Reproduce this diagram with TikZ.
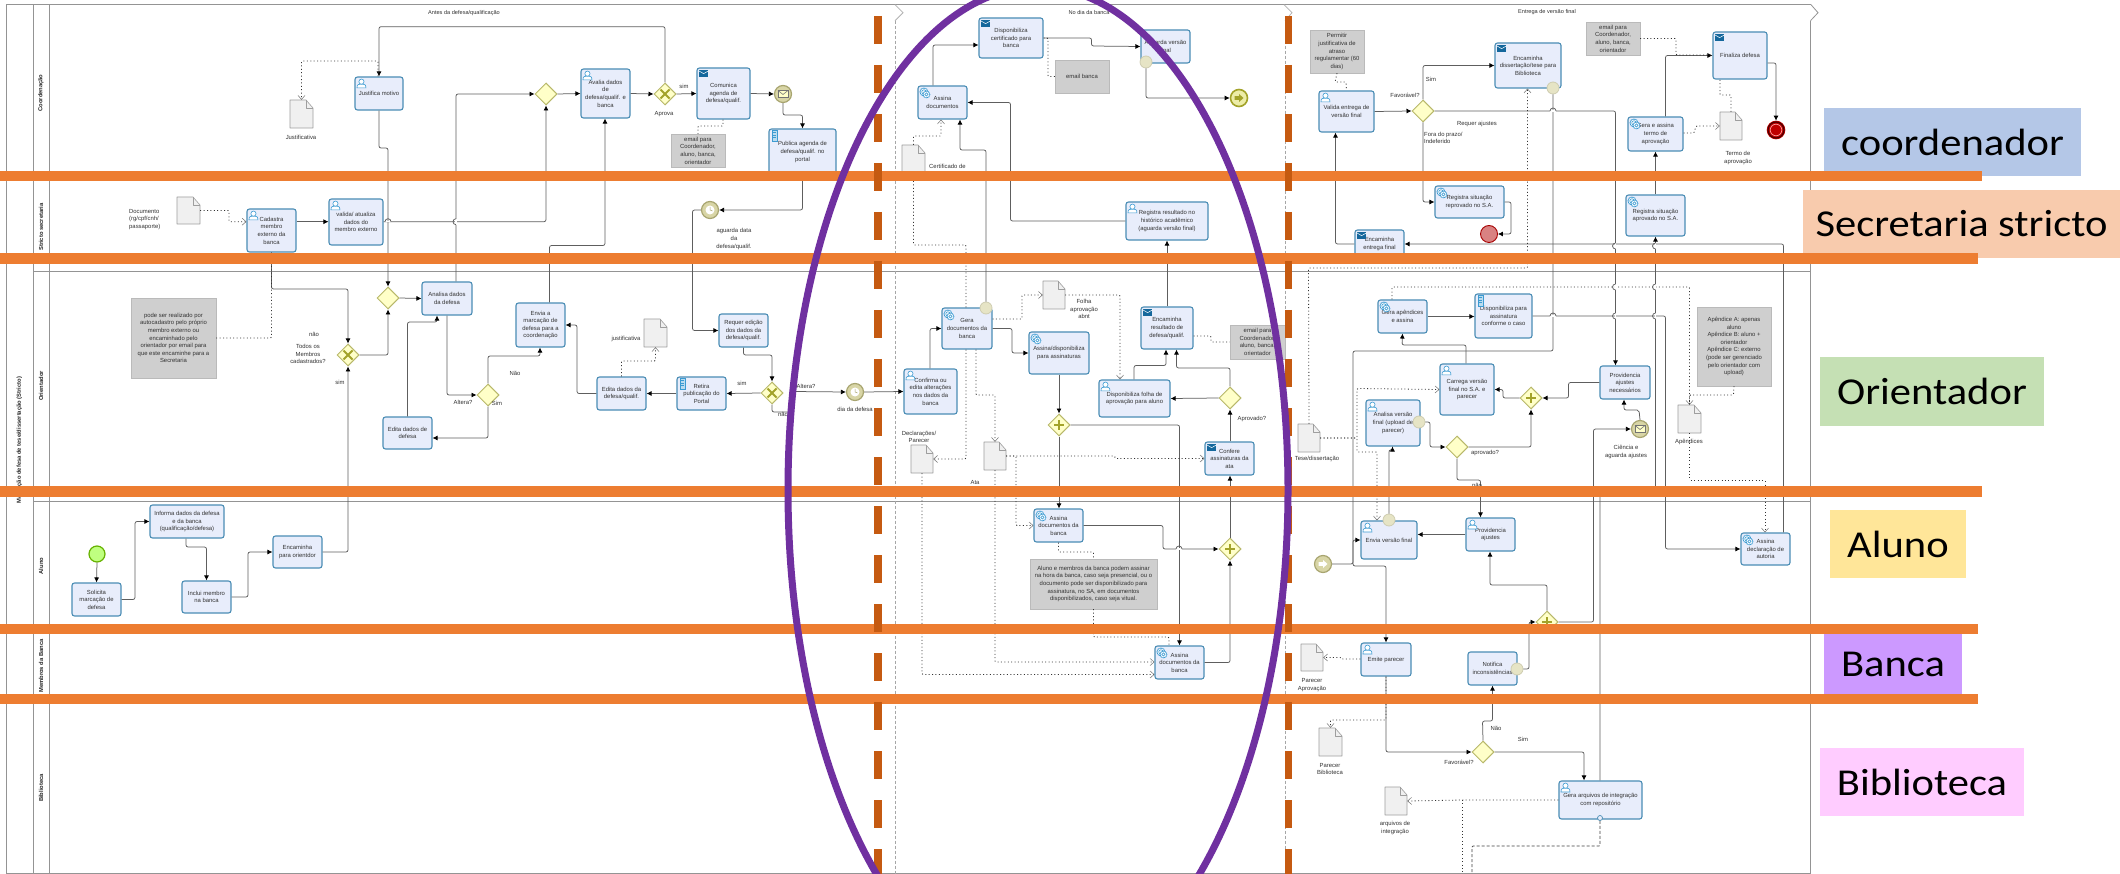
\documentclass[tikz,border=0pt]{standalone}
\usepackage{fontspec}
\setmainfont{Liberation Sans}
\newfontfamily\lblfont[FakeStretch=1.12]{Carlito}
\usetikzlibrary{arrows.meta,shapes.geometric}
\definecolor{taskfill}{HTML}{E8EDFB}
\definecolor{taskline}{HTML}{4A8DB5}
\definecolor{flowgrey}{HTML}{5E5E5E}
\definecolor{lanegrey}{HTML}{949494}
\definecolor{iconblue}{HTML}{3C9BD2}
\definecolor{maildark}{HTML}{14679C}
\definecolor{gatefill}{HTML}{FFFFC8}
\definecolor{gateline}{HTML}{B8B86A}
\definecolor{gatemark}{HTML}{A3A32A}
\definecolor{evfill}{HTML}{D8D5A6}
\definecolor{evline}{HTML}{A8A570}
\definecolor{notegrey}{HTML}{CFCFCF}
\definecolor{textgrey}{HTML}{333333}
\definecolor{orangebar}{HTML}{ED7D31}
\definecolor{orangedash}{HTML}{C55A11}
\definecolor{purplering}{HTML}{7030A0}
\tikzset{
  txt/.style={font=\fontsize{5.9}{7.6}\selectfont,text=textgrey,align=center,inner sep=0pt},
  taskbox/.style={txt,draw=taskline,fill=taskfill,line width=1.1pt,rounded corners=2.5pt},
  notebox/.style={txt,fill=notegrey,draw=notegrey!90!black,line width=0.4pt},
  docbody/.style={inner sep=0pt},
  docline/.style={draw=black!38,fill=black!6,line width=0.6pt,line join=round},
  lbltext/.style={txt},
  lanelabel/.style={font=\bfseries\fontsize{5.8}{6}\selectfont,rotate=90,text=black!85,inner sep=0pt},
  gatebase/.style={diamond,aspect=1,draw=gateline,fill=gatefill,line width=1pt,minimum width=22pt,minimum height=22pt,inner sep=0pt},
  evbase/.style={circle,draw=evline,fill=evfill,line width=1.2pt,minimum size=17pt,inner sep=0pt},
  boundev/.style={circle,draw=evline!55,fill=evfill!65,line width=0.8pt,minimum size=12pt,inner sep=0pt},
  flow/.style={draw=flowgrey,line width=0.75pt,rounded corners=2pt,-{Latex[length=5pt,width=5pt,black]}},
  assoc/.style={draw=black!80,line width=0.8pt,dash pattern=on 1pt off 2.4pt,rounded corners=1pt},
  assocarrow/.style={assoc,-{Straight Barb[length=4pt,width=7pt,black!55,line width=0.5pt]}},
  dashflow/.style={draw=black!75,line width=0.7pt,dash pattern=on 3pt off 2pt,rounded corners=1pt},
  lane/.style={draw=lanegrey,line width=0.8pt},
  phaseline/.style={draw=black!35,line width=0.9pt,dash pattern=on 3pt off 2pt},
  phasetip/.style={draw=black!30,line width=0.8pt},
  phasetext/.style={txt,font=\fontsize{5.6}{7}\selectfont},
  hopline/.style={draw=flowgrey,line width=0.75pt},
  orangeline/.style={draw=orangebar,line width=10.5pt},
  dashbar/.style={draw=orangedash,line width=7.5pt,dash pattern=on 28pt off 21pt},
  ring/.style={draw=purplering,line width=7pt},
  rolebox/.style={font=\lblfont\fontsize{38}{40}\selectfont,text=black,inner sep=0pt},
  iconline/.style={draw=iconblue,line width=0.6pt,fill=white},
  markstroke/.style={draw=gatemark,line width=2.1pt},
}
\newcounter{labn}
\newcommand\lbl[3]{\stepcounter{labn}\node[lbltext] (lbl\arabic{labn}) at (#1,#2) {#3};}
\newcommand\mytask[6]{\node[taskbox,minimum width={(#4-#2)*1pt},minimum height={(#5-#3)*1pt}] (#1) at ({(#2+#4)/2},{(#3+#5)/2}) {#6};}
\newcommand\mynote[6]{\node[notebox,minimum width={(#4-#2)*1pt},minimum height={(#5-#3)*1pt}] (#1) at ({(#2+#4)/2},{(#3+#5)/2}) {#6};}
\newcommand\myfile[5]{\node[docbody,minimum width={(#4-#2)*1pt},minimum height={(#5-#3)*1pt}] (#1) at ({(#2+#4)/2},{(#3+#5)/2}) {};
  \draw[docline] (#2,#3) -- ({#4-7},#3) -- (#4,{#3+8}) -- (#4,#5) -- (#2,#5) -- cycle;
  \draw[docline,fill=none] ({#4-7},#3) -- ({#4-7},{#3+8}) -- (#4,{#3+8});}
\newcommand\gateplain[3]{\node[gatebase] (#1) at (#2,#3) {};}
\newcommand\gatecross[3]{\gateplain{#1}{#2}{#3}\draw[markstroke] ({#2-4.5},{#3-4.5}) -- ({#2+4.5},{#3+4.5}) ({#2-4.5},{#3+4.5}) -- ({#2+4.5},{#3-4.5});}
\newcommand\gateplus[3]{\gateplain{#1}{#2}{#3}\draw[markstroke] ({#2-5},#3) -- ({#2+5},#3) (#2,{#3-5}) -- (#2,{#3+5});}
\newcommand\iconuser[1]{\begin{scope}[shift={(#1.north west)}]
  \draw[iconline] (2.5,11.5) .. controls (2.5,8) and (4,7.5) .. (7,7.5) .. controls (10,7.5) and (11.5,8) .. (11.5,11.5) -- cycle;
  \draw[iconline] (7,5.2) circle[radius=2.6];\end{scope}}
\newcommand\iconmail[1]{\begin{scope}[shift={(#1.north west)}]
  \fill[maildark] (2.5,2.5) rectangle (12,9.5);
  \draw[white,line width=0.5pt] (2.5,3.5) -- (7.2,6.2) -- (12,3.5);\end{scope}}
\newcommand\icongear[1]{\begin{scope}[shift={(#1.north west)}]
  \draw[iconline,dash pattern=on 1.2pt off 0.5pt,line width=0.9pt] (6.5,6.5) circle[radius=4];
  \draw[iconline] (6.5,6.5) circle[radius=2.2];
  \draw[iconline,dash pattern=on 1.2pt off 0.5pt,line width=0.9pt] (9,9) circle[radius=3.4];
  \draw[iconline] (9,9) circle[radius=1.6];\end{scope}}
\newcommand\iconscript[1]{\begin{scope}[shift={(#1.north west)}]
  \draw[iconline,fill=iconblue!35] (4,1.5) rectangle (9,12.5);
  \draw[iconblue,line width=0.4pt] (5,4) -- (8,4) (5,6.5) -- (8,6.5) (5,9) -- (8,9);\end{scope}}
\newcommand\evenvelope[1]{\begin{scope}[shift={(#1.center)}]
  \draw[draw=black!55,fill=gatefill,line width=0.6pt] (-5,-3.5) rectangle (5,3.5);
  \draw[draw=black!55,line width=0.6pt] (-5,-3.5) -- (0,0.5) -- (5,-3.5);\end{scope}}
\newcommand\evarrow[1]{\begin{scope}[shift={(#1.center)}]
  \fill[white] (-4.5,-1.8) -- (0,-1.8) -- (0,-4) -- (4.5,0) -- (0,4) -- (0,1.8) -- (-4.5,1.8) -- cycle;\end{scope}}
\newcommand\evclock[1]{\begin{scope}[shift={(#1.center)}]
  \fill[white] (0,0) circle[radius=4.5];
  \draw[evline,line width=0.5pt] (0,-3) -- (0,0) -- (2.5,1);\end{scope}}
\newcommand\hoph[2]{\fill[white] ({#1-3},{#2-0.8}) rectangle ({#1+3},{#2+0.8});
  \draw[hopline] ({#1-3},#2) arc[start angle=180,end angle=360,radius=3];}
\newcommand\hopv[2]{\fill[white] ({#1-0.8},{#2-3}) rectangle ({#1+0.8},{#2+3});
  \draw[hopline] (#1,{#2-3}) arc[start angle=270,end angle=90,radius=3];}
\begin{document}
\begin{tikzpicture}[x=1pt,y=-1pt]
\useasboundingbox (0,0) rectangle (2120,874);
\fill[white] (0,0) rectangle (2120,874);
% ---------- pool and lanes
\draw[lane,line width=1pt] (1811,4.7) -- (6.5,4.7) -- (6.5,874);
\draw[lane] (33.5,4.7) -- (33.5,874) (49.5,4.7) -- (49.5,874);
\draw[lane] (33.5,178) -- (1810,178) (33.5,271.3) -- (1810,271.3) (33.5,501) -- (1810,501) (33.5,632) -- (1810,632) (33.5,702) -- (1810,702) (6.5,873.5) -- (1810,873.5);
\draw[lane] (1810.5,20.7) -- (1810.5,874);
\draw[phaseline] (895,20.7) -- (895,874) (1285,20.7) -- (1285,874);
\draw[phasetip] (895,4.7) -- (903,12.7) -- (895,20.7) (1284,4.7) -- (1292,12.7) -- (1285,20.7);
\draw[lane] (1811,4.7) -- (1818,12.7) -- (1810.5,20.7);
\node[phasetext] (ph1) at (464,12.7) {Antes da defesa/qualificação};
\node[phasetext] (ph2) at (1089,12.7) {No dia da banca};
\node[phasetext] (ph3) at (1547,12) {Entrega de versão final};
\node[lanelabel] (l0) at (19.3,440) {Marcação defesa de tese/dissertação (Stricto)};
\node[lanelabel] (l1) at (41,93) {Coordenação};
\node[lanelabel] (l2) at (41,227) {Stricto secretaria};
\node[lanelabel] (l3) at (41,386) {Orientador};
\node[lanelabel] (l4) at (41,566) {Aluno};
\node[lanelabel] (l5) at (41,666) {Membros da Banca};
\node[lanelabel] (l6) at (41,788) {Biblioteca};
% ---------- tasks: phase 1
\mytask{jus}{355}{77}{403}{110}{Justifica motivo}\iconuser{jus}
\mytask{cad}{247}{209}{296}{252}{Cadastra\\membro\\externo da\\banca}\iconuser{cad}
\mytask{val}{329}{199}{383}{245}{valida/ atualiza\\dados do\\membro externo}\iconuser{val}
\mytask{ana}{422}{282}{472}{315}{Analisa dados\\da defesa}
\mytask{edd}{383}{417}{432}{449}{Edita dados de\\defesa}
\mytask{inf}{150}{505}{224}{538}{Informa dados da defesa\\e da banca\\(qualificação/defesa)}
\mytask{sol}{72}{583}{121}{616}{Solicita\\marcação de\\defesa}
\mytask{inc}{182}{581}{231}{613}{Inclui membro\\na banca}
\mytask{enc}{273}{536}{322}{568}{Encaminha\\para orientdor}
\mytask{ava}{581}{69}{630}{118}{Avalia dados\\de\\defesa/qualif. e\\banca}\iconuser{ava}
\mytask{com}{697}{68}{750}{119}{Comunica\\agenda de\\defesa/qualif.}\iconmail{com}
\mytask{pub}{769}{129}{836}{175}{Publica agenda de\\defesa/qualif. no\\portal}\iconscript{pub}
\mytask{env}{516}{303}{565}{347}{Envia a\\marcação de\\defesa para  a\\coordenação}
\mytask{req}{719}{314}{768}{347}{Requer edição\\dos dados da\\defesa/qualif.}
\mytask{edq}{597}{377}{646}{410}{Edita  dados da\\defesa/qualif.}
\mytask{ret}{677}{377}{726}{410}{Retira\\publicação do\\Portal}\iconscript{ret}
% ---------- tasks: phase 2
\mytask{cnf}{904}{369}{957}{414}{Confirma ou\\edita alterações\\nos dados da\\banca}\iconuser{cnf}
\mytask{gera}{942}{308}{992}{349}{Gera\\documentos da\\banca}\icongear{gera}
\mytask{asd}{1029}{332}{1089}{374}{Assina/disponibiliza\\para assinaturas}\icongear{asd}
\mytask{dfo}{1099}{380}{1170}{417}{Disponibiliza folha de\\aprovação para aluno}\iconuser{dfo}
\mytask{enr}{1141}{307}{1193}{349}{Encaminha\\resultado de\\defesa/qualif.}\iconmail{enr}
\mytask{cfa}{1205}{442}{1254}{475}{Confere\\assinaturas da\\ata}\iconmail{cfa}
\mytask{asb}{1034}{509}{1083}{542}{Assina\\documentos da\\banca}\icongear{asb}
\mytask{asm}{1155}{646}{1204}{679}{Assina\\documentos da\\banca}\icongear{asm}
\mytask{cer}{979}{18}{1043}{58}{Disponibiliza\\certificado para\\banca}\iconmail{cer}
\mytask{agu}{1141}{30}{1190}{63}{Aguarda versão\\final}
\mytask{ast}{918}{86}{967}{119}{Assina\\documentos}\icongear{ast}
\mytask{reg}{1126}{202}{1208}{240}{Registra resultado no\\histórico acadêmico\\(aguarda versão final)}\iconuser{reg}
% ---------- tasks: phase 3
\mytask{vld}{1319}{91}{1374}{132}{Valida entrega de\\versão final}\iconuser{vld}
\mytask{end}{1495}{43}{1561}{88}{Encaminha\\dissertação/tese para\\Biblioteca}\iconmail{end}
\mytask{rrp}{1435}{186}{1504}{218}{Registra situação\\reprovado no S.A.}\icongear{rrp}
\mytask{eef}{1355}{230}{1404}{258}{Encaminha\\entrega final}\iconmail{eef}
\mytask{rap}{1626}{195}{1685}{236}{Registra situação\\aprovado no S.A.}\icongear{rap}
\mytask{gta}{1628}{117}{1683}{151}{Gera e assina\\termo de\\aprovação}\icongear{gta}
\mytask{fin}{1713}{32}{1767}{79}{Finaliza defesa}\iconmail{fin}
\mytask{gap}{1378}{300}{1427}{333}{Gera apêndices\\e assina}\icongear{gap}
\mytask{dpa}{1475}{294}{1532}{338}{Disponibiliza para\\assinatura\\conforme o caso}\iconscript{dpa}
\mytask{car}{1440}{364}{1494}{415}{Carrega  versão\\final no S.A. e\\parecer}\iconuser{car}
\mytask{anv}{1366}{400}{1420}{446}{Analisa versão\\final (upload de\\parecer)}\iconuser{anv}
\mytask{pan}{1600}{366}{1650}{399}{Providencia\\ajustes\\necessários}
\mytask{evf}{1361}{521}{1417}{559}{Envia versão final}\iconuser{evf}
\mytask{pav}{1466}{518}{1515}{551}{Providencia\\ajustes}\iconuser{pav}
\mytask{adc}{1741}{533}{1790}{565}{Assina\\declaração de\\autoria}\icongear{adc}
\mytask{emi}{1361}{643}{1411}{676}{Emite parecer}\iconuser{emi}
\mytask{ntf}{1468}{652}{1517}{685}{Notifica\\inconsistências}
\mytask{gar}{1559}{781}{1642}{819}{Gera arquivos de integração\\com repositório}\iconuser{gar}
% ---------- notes
\mynote{nt1}{131}{298}{216}{378}{pode ser realizado por\\autocadastro  pelo próprio\\membro externo ou\\encaminhado pelo\\orientador por email para\\que este encaminhe para a\\Secretaria}
\mynote{nt2}{671}{134}{725}{167}{email para\\Coordenador,\\aluno, banca,\\orientador}
\mynote{nt3}{1230}{325}{1285}{359}{email para\\Coordenador,\\aluno, banca,\\orientador}
\mynote{nt4}{1030}{559}{1157}{609}{Aluno e membros da banca podem assinar\\na hora da banca, caso seja presencial, ou o\\documento pode ser disponibilizado para\\assinatura, no SA, em documentos\\disponibilizados, caso seja vitual.}
\mynote{nt5}{1055}{60}{1109}{93}{email banca}
\mynote{nt6}{1310}{30}{1364}{73}{Permitir\\justificativa de\\atraso\\regulamentar (60\\dias)}
\mynote{nt7}{1586}{22}{1640}{55}{email para\\Coordenador,\\aluno, banca,\\orientador}
\mynote{nt8}{1697}{307}{1771}{386}{Apêndice A: apenas\\aluno\\Apêndice B: aluno +\\orientador\\Apêndice C: externo\\(pode ser gerenciado\\pelo orientador com\\upload)}
% ---------- documents
\myfile{dc1}{177}{197}{200}{224}
\myfile{dc2}{290}{100}{313}{128}
\myfile{dc3}{644}{319}{667}{347}
\myfile{dc4}{902}{145}{925}{172}
\myfile{dc5}{1043}{281}{1065}{309}
\myfile{dc6}{911}{445}{933}{473}
\myfile{dc7}{984}{442}{1006}{470}
\myfile{dc8}{1298}{424}{1320}{452}
\myfile{dc9}{1720}{112}{1742}{140}
\myfile{dc10}{1678}{405}{1701}{433}
\myfile{dc11}{1301}{644}{1323}{671}
\myfile{dc12}{1319}{728}{1342}{756}
\myfile{dc13}{1385}{787}{1407}{815}
% ---------- gateways
\gateplain{gw1}{388}{298}
\gatecross{gx1}{348}{355}
\gateplain{gw2}{546}{94}
\gatecross{gx2}{665}{94}
\gateplain{gw3}{488}{395}
\gatecross{gx3}{772}{393}
\gateplus{gp1}{1059}{425}
\gateplus{gp2}{1230}{549}
\gateplain{gwa}{1230}{398}
\gateplain{gfv}{1423}{111}
\gateplus{gpc}{1531}{398}
\gateplain{gap2}{1457}{447}
\gateplus{gpd}{1547}{622}
\gateplain{gfb}{1483}{752}
% ---------- events
\node[evbase,draw=black!50!green!60!yellow,fill=green!50!yellow!50,minimum size=16pt] (start) at (97,554) {};
\node[evbase] (ev1) at (783,94) {}; \evenvelope{ev1}
\node[evbase] (tim1) at (710,210) {}; \evclock{tim1}
\node[evbase] (tim2) at (855,392) {}; \evclock{tim2}
\node[evbase,draw=gatemark,fill=gatefill!80!gatemark,line width=1.6pt] (lnk) at (1239,98) {};
\fill[gatemark] (1234.5,96.2) -- (1239,96.2) -- (1239,94) -- (1243.5,98) -- (1239,102) -- (1239,99.8) -- (1234.5,99.8) -- cycle;
\node[evbase] (lk2) at (1323,564) {}; \evarrow{lk2}
\node[evbase] (ev2) at (1640,429) {}; \evenvelope{ev2}
\node[evbase,draw=red!65!black,fill=red!40!white!85!black,line width=0.9pt] (ep1) at (1489,234) {};
\node[evbase,draw=red!75!black,fill=red!75!black,line width=1.6pt] (ep2) at (1776,130) {};
\draw[black!70!red,line width=1.2pt] (ep2.center) circle[radius=8];
\draw[white!60!red,line width=0.7pt] (ep2.center) circle[radius=5.8];
\node[boundev] (bg) at (986,308) {};
\node[boundev] (ba) at (1146,62) {};
\node[boundev] (be) at (1553,88) {};
\node[boundev] (bn) at (1419,422) {};
\node[boundev] (bv) at (1389,520) {};
\node[boundev] (bf) at (1517,669) {};
\node[circle,draw=taskline,fill=taskfill,line width=0.7pt,minimum size=5pt,inner sep=0pt] (cmp) at (1600,818) {};
\coordinate (botA) at (1462,874);
\coordinate (botB) at (1472,874);
% ---------- flows: phase 1
\draw[flow] (start.south) -- (sol.north);
\draw[flow] (sol.east) -| (135,521.5) -- (inf.west);
\draw[flow] (186,0 |- inf.south) -- (186,547) -- (206.5,547) -- (inc.north);
\draw[flow] (inc.east) -| (248,552) -- (enc.west);
\draw[flow] (enc.east) -| (gx1.south);
\draw[flow] (gx1.east) -| (gw1.south);
\draw[flow] (jus.south) -- (379,148) -- (388,148) -- (gw1.north);
\draw[flow] (gw1.east) -- (ana.west);
\draw[flow] (0,221.7 -| val.east) -| (gw2.south);
\draw[flow] (456,0 |- ana.north) -- (456,94) -- (gw2.west);
\draw[flow] (gw2.east) -- (ava.west);
\draw[flow] (ava.east) -- (gx2.west);
\draw[flow] (gx2.north) |- (379,26.7) -- (jus.north);
\draw[flow] (gx2.east) -- (com.west);
\draw[flow] (com.east) -- (ev1.west);
\draw[flow] (ev1.south) -- (783,115) -- (802.5,115) -- (pub.north);
\draw[flow] (pub.south) |- (tim1.east);
\draw[flow] (tim1.west) -| (692.5,330.5) -- (req.west);
\draw[flow] (743.5,0 |- req.south) -- (743.5,355) -- (772,355) -- (gx3.north);
\draw[flow] (gx3.west) -- (ret.east);
\draw[flow] (ret.west) -- (edq.east);
\draw[flow] (edq.west) -| (577,325) -- (env.east);
\draw[flow] (447,0 |- ana.south) |- (gw3.west);
\draw[flow] (gw3.north) |- (540,356) -- (540,0 |- env.south);
\draw[flow] (gw3.south) |- (0,438 -| edd.east);
\draw[flow] (edd.north) -- (407.5,322) -- (437,322) -- (437,0 |- ana.south);
\draw[flow] (549.5,0 |- env.north) -- (549.5,245.5) -- (605,245.5) -- (605,0 |- ava.south);
\draw[flow] (cad.south) |- (348,289) -- (gx1.north);
\draw[flow] (0,221.7 -| cad.east) -- (0,221.7 -| val.west);
\draw[assocarrow] (dc1.east) -- (229,210.5) -- (229,221.7) -- (0,221.7 -| cad.west);
\draw[assocarrow] (378,0 |- jus.north) -- (378,61) -- (301.5,61) -- (dc2.north);
\draw[assoc] (nt1.east) -- (271.5,338) -- (cad.south);
\draw[assocarrow] (edq.north) -- (621.5,361) -- (655.5,361) -- (dc3.south);
\draw[assoc] (723,0 |- com.south) -- (723,126) -- (698,126) -- (nt2.north);
% ---------- flows: phase 2
\draw[flow] (gx3.south) -- (772,412) -- (793,412) -- (793,391.5) -- (tim2.west);
\draw[flow] (tim2.east) -- (cnf.west);
\draw[flow] (930,0 |- cnf.north) |- (gera.west);
\draw[flow] (gera.east) -- (1012,328.5) -- (1012,353) -- (asd.west);
\draw[flow] (asd.south) -- (gp1.north);
\draw[flow] (gp1.south) -- (1059,0 |- asb.north);
\draw[flow] (gp1.east) -| (asm.north);
\draw[flow] (asb.east) -- (1163,525.5) -- (1163,549) -- (gp2.west);
\draw[flow] (asm.east) -| (gp2.south);
\draw[flow] (gp2.north) -- (1230,0 |- cfa.south);
\draw[flow] (1230,0 |- cfa.north) -- (gwa.south);
\draw[flow] (gwa.west) -- (dfo.east);
\draw[flow] (gwa.north) |- (1176.5,368) -- (1176.5,0 |- enr.south);
\draw[flow] (1134,0 |- dfo.north) |- (1166,365.5) -- (1166,0 |- enr.south);
\draw[flow] (enr.north) -- (reg.south);
\draw[flow] (reg.west) -| (1010.5,102.5) -- (ast.east);
\draw[flow] (bg.north) -- (986,150) -- (960,150) -- (960,0 |- ast.south);
\draw[flow] (933,0 |- ast.north) |- (0,45 -| cer.west);
\draw[flow] (cer.east) -- (1091.5,38) -- (1091.5,46) -- (agu.west);
\draw[flow] (ba.south) |- (lnk.west);
\draw[assoc] (cer.east) -- (1048,38) -- (1048,76.5) -- (nt5.west);
\draw[assocarrow] (dc4.north) -- (913.5,136) -- (941,136) -- (941,0 |- ast.south);
\draw[assoc] (966,0 |- gera.north) -- (966,245) -- (913.5,245) -- (dc4.south);
\draw[assocarrow] (0,319 -| gera.east) -- (1022,319) -- (1022,295) -- (dc5.west);
\draw[assocarrow] (dc5.east) -- (1120,295) -- (1120,0 |- dfo.north);
\draw[assocarrow] (966,0 |- gera.south) -- (966,459) -- (dc6.east);
\draw[assocarrow] (976,0 |- gera.south) -- (976,395) -- (995,395) -- (dc7.north);
\draw[assocarrow] (dc6.south) -- (922,674.5) -- (0,674.5 -| asm.west);
\draw[assocarrow] (dc7.south) -- (995,662) -- (0,662 -| asm.west);
\draw[assocarrow] (dc7.east) -- (1016,456) -- (1016,525.5) -- (asb.west);
\draw[assocarrow] (dc7.east) -- (1115,456) -- (1115,458.5) -- (cfa.west);
\draw[assoc] (asb.south) -- (1058.5,552) -- (1093.5,552) -- (nt4.north);
\draw[assoc] (nt4.south) -- (1093.5,637) -- (1169,637) -- (1169,0 |- asm.north);
\draw[assoc] (0,336 -| enr.east) -- (1211,336) -- (1211,342) -- (nt3.west);
% ---------- flows: phase 3
\draw[flow] (vld.east) -- (gfv.west);
\draw[flow] (gfv.north) |- (end.west);
\draw[flow] (gfv.south) |- (rrp.west);
\draw[flow] (rrp.east) -| (1511,234) -- (ep1.east);
\draw[flow] (gfv.east) -| (1615.5,0 |- pan.north);
\draw[flow] (be.south) -- (1553,351) -- (1353,351) -- (1353,566) -- (1386,566) -- (1386,0 |- emi.north);
\draw[flow] (eef.west) -| (1335.5,0 |- vld.south);
\draw[flow] (1783.5,0 |- adc.north) |- (eef.east);
\draw[flow] (rap.north) -- (1655.5,0 |- gta.south);
\draw[flow] (1600,0 |- gar.north) -- (1600,491) -- (1655.5,491) -- (1655.5,0 |- rap.south);
\draw[flow] (1665.5,0 |- gta.north) |- (fin.west);
\draw[flow] (0,63 -| fin.east) -| (ep2.north);
\draw[flow] (pan.west) -- (1568.5,382.5) -- (1568.5,398) -- (gpc.east);
\draw[flow] (gpc.west) -- (1503,398) -- (1503,389.5) -- (car.east);
\draw[flow] (1466,0 |- car.north) -- (1466,345) -- (1402,345) -- (gap.south);
\draw[flow] (gap.east) -- (0,316.5 -| dpa.west);
\draw[flow] (dpa.east) -- (1665.5,316) -- (1665.5,549) -- (adc.west);
\draw[flow] (bn.east) -| (1430,447) -- (gap2.west);
\draw[flow] (gap2.east) -| (gpc.south);
\draw[flow] (gap2.south) -- (1457,480) -- (1480.5,480) -- (1480.5,0 |- pav.north);
\draw[flow] (pav.west) -- (0,534.5 -| evf.east);
\draw[flow] (bv.north) -- (1389,450) -- (1392.5,450) -- (1392.5,0 |- anv.south);
\draw[flow] (lk2.east) -- (1353,564) -- (1353,540) -- (evf.west);
\draw[flow] (gpd.north) -- (1547,585) -- (1490,585) -- (1490,0 |- pav.south);
\draw[flow] (gpd.east) -| (1593.5,429) -- (ev2.west);
\draw[flow] (ev2.north) -- (1639,410) -- (1624,410) -- (1624,0 |- pan.south);
\draw[flow] (bf.east) -- (1529,669) -- (1529,622) -- (gpd.west);
\draw[flow] (emi.south) |- (gfb.west);
\draw[flow] (gfb.north) -- (1482.5,721) -- (1492.5,721) -- (1492.5,0 |- ntf.south);
\draw[flow] (gfb.east) -| (1584,0 |- gar.north);
\draw[assoc] (nt6.south) -- (1335,82) -- (1346,82) -- (vld.north);
\draw[assocarrow] (dc8.north) -- (1308.5,268) -- (1527.5,268) -- (1527.5,0 |- end.south);
\draw[assocarrow] (dc8.east) -- (1357,438) -- (1357,388.5) -- (car.west);
\draw[assocarrow] (dc8.east) -- (1357,438) -- (1357,452) -- (1377,452) -- (1377,0 |- evf.north);
\draw[assocarrow] (0,133 -| gta.east) -- (1694,133) -- (1696,126) -- (dc9.west);
\draw[assoc] (dc9.north) -- (1731,95) -- (1720,95) -- (1720,0 |- fin.south);
\draw[assoc] (nt7.east) -- (1676,38.5) -- (1676,55) -- (0,55 -| fin.west);
\draw[assocarrow] (1392,0 |- gap.north) -- (1392,287) -- (1689.5,287) -- (dc10.north);
\draw[assoc] (nt8.south) -- (1733.5,395) -- (1689.5,395) -- (dc10.north);
\draw[assocarrow] (dc10.south) -- (1689.5,480) -- (1765,480) -- (1765,0 |- adc.north);
\draw[assocarrow] (0,659 -| emi.west) -- (1342,659) -- (1341,657.5) -- (dc11.east);
\draw[assocarrow] (emi.south) -- (1386,720) -- (1330.5,720) -- (dc12.north);
\draw[assocarrow] (gar.west) -- (1462,800) -- (dc13.east);
\draw[assoc] (1462,800) -- (botA);
\draw[dashflow] (cmp.south) -- (1600,846) -- (1472,846) -- (botB);
% ---------- bridges where connectors cross
\hoph{388}{221.7}\hopv{456}{221.7}\hoph{1179}{549}\hoph{1553}{111}\hoph{1553}{316}
\hopv{1615.5}{246}\hopv{1655.5}{246}\hopv{1615.5}{287}\hopv{1655.5}{287}\hopv{1615.5}{316}\hopv{1655.5}{316}
% ---------- free labels
\lbl{301}{137}{Justificativa}
\node[lbltext,align=left,anchor=west] (ldoc) at (129,219.5) {Documento\\(rg/cpf/cnh/\\passaporte)};
\lbl{314}{334}{não}
\lbl{308}{354}{Todos os\\Membros\\cadastrados?}
\lbl{340}{382}{sim}
\lbl{463}{402}{Altera?}
\lbl{664}{114}{Aprova}
\lbl{684}{86}{sim}
\lbl{734}{239}{aguarda data\\da\\defesa/qualif.}
\lbl{497}{403}{Sim}
\lbl{515}{373}{Não}
\lbl{626}{339}{justificativa}
\lbl{742}{383}{sim}
\lbl{783}{414}{não}
\lbl{806}{386}{Altera?}
\lbl{855}{409}{dia da defesa}
\lbl{1084}{309}{Folha\\aprovação\\abnt}
\lbl{1252}{419}{Aprovado?}
\lbl{919}{437}{Declarações/\\Parecer}
\lbl{975}{482}{Ata}
\lbl{1317}{458.5}{Tese/dissertação}
\node[lbltext,anchor=west] (lcert) at (929,166) {Certificado de};
\lbl{1405}{95}{Favorável?}
\lbl{1431}{79}{Sim}
\lbl{1477}{124}{Requer ajustes}
\node[lbltext,align=left,anchor=west] (lfora) at (1424,138) {Fora do prazo/\\Indeferido};
\lbl{1738}{158}{Termo de\\aprovação}
\lbl{1485}{453}{aprovado?}
\lbl{1477}{485}{não}
\lbl{1626}{452}{Ciência e\\aguarda ajustes}
\lbl{1689}{442}{Apêndices}
\lbl{1312}{685}{Parecer\\Aprovação}
\lbl{1330}{769}{Parecer\\Biblioteca}
\lbl{1459}{762}{Favorável?}
\lbl{1496}{728}{Não}
\lbl{1523}{739}{Sim}
\lbl{1395}{828}{arquivos de\\integração}
% ---------- role legend
\node[rolebox,fill={rgb,255:red,180;green,199;blue,231},minimum width=257pt,minimum height=68pt] (r1) at (1952.5,142) {coordenador};
\node[rolebox,fill={rgb,255:red,248;green,203;blue,173},minimum width=317pt,minimum height=68pt] (r2) at (1961.5,224) {Secretaria stricto};
\node[rolebox,fill={rgb,255:red,197;green,224;blue,180},minimum width=224pt,minimum height=69pt] (r3) at (1932,391.5) {Orientador};
\node[rolebox,fill={rgb,255:red,255;green,230;blue,153},minimum width=136pt,minimum height=68pt] (r4) at (1898,544) {Aluno};
\node[rolebox,fill={rgb,255:red,204;green,153;blue,255},minimum width=138pt,minimum height=60pt] (r5) at (1893,664) {Banca};
\node[rolebox,fill={rgb,255:red,255;green,204;blue,255},minimum width=204pt,minimum height=68pt] (r6) at (1922,782) {Biblioteca};
% ---------- overlay bars and ring
\draw[orangeline] (0,176) -- (1982,176);
\draw[orangeline] (0,258.5) -- (1978,258.5);
\draw[orangeline] (0,491.5) -- (1982,491.5);
\draw[orangeline] (0,629) -- (1978,629);
\draw[orangeline] (0,699) -- (1978,699);
\draw[dashbar] (878,16) -- (878,874);
\draw[dashbar] (1288.5,16) -- (1288.5,874);
\begin{scope}
\clip (0,0) rectangle (2120,874);
\draw[ring] (1038,490) ellipse[x radius=250,y radius=503];
\end{scope}
\end{tikzpicture}
\end{document}
